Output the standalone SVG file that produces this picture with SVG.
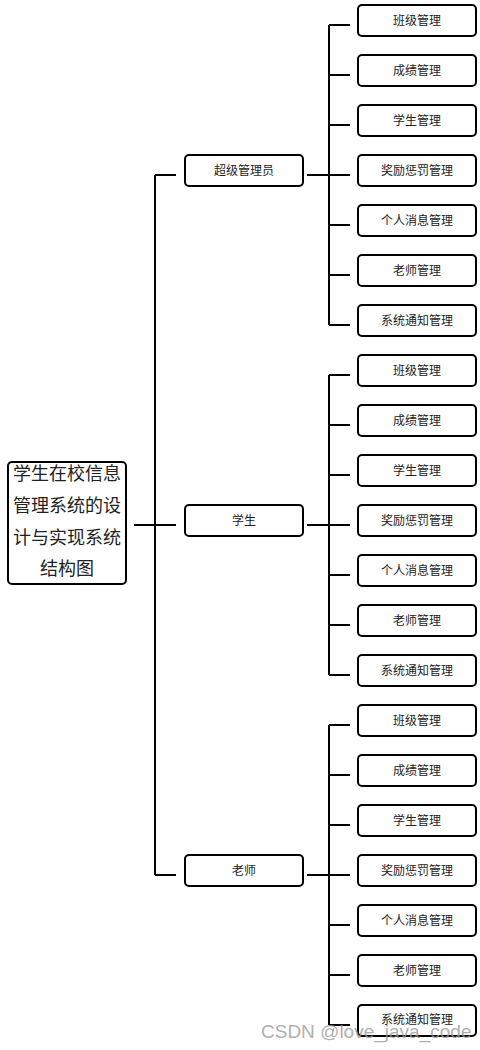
<svg xmlns="http://www.w3.org/2000/svg" width="480" height="1050" viewBox="0 0 480 1050">
<style>
.box{fill:#fff;stroke:#000;stroke-width:2}
.ln{stroke:#000;stroke-width:2;fill:none}
.t{font-family:"Noto Sans CJK SC","Liberation Sans",sans-serif;font-size:12px;fill:#222;text-anchor:middle;dominant-baseline:central}
.rt{font-family:"Noto Sans CJK SC","Liberation Sans",sans-serif;font-size:18px;fill:#222;text-anchor:middle}
.wm{font-family:"Liberation Sans",Arial,sans-serif;font-size:19px;fill:#999;fill-opacity:0.8}
</style>
<rect width="480" height="1050" fill="#fff"/>
<g id="connectors">
<path class="ln" d="M134 525H176M155 175V875M155 175H176M155 875H176"/>
<path class="ln" d="M307 175H329M329 25V325M329 25H350M329 75H350M329 125H350M329 175H350M329 225H350M329 275H350M329 325H350"/>
<path class="ln" d="M307 525H329M329 375V675M329 375H350M329 425H350M329 475H350M329 525H350M329 575H350M329 625H350M329 675H350"/>
<path class="ln" d="M307 875H329M329 725V1025M329 725H350M329 775H350M329 825H350M329 875H350M329 925H350M329 975H350M329 1025H350"/>
</g>
<g id="root">
<rect class="box" x="8" y="462" width="118" height="122" rx="4"/>
<text class="rt" x="67" y="480">学生在校信息</text>
<text class="rt" x="67" y="512">管理系统的设</text>
<text class="rt" x="67" y="544">计与实现系统</text>
<text class="rt" x="67" y="575">结构图</text>
</g>
<g id="n_admin"><rect class="box" x="185" y="155" width="118" height="31" rx="4"/><text class="t" x="244" y="169.5">超级管理员</text></g>
<g id="n_student"><rect class="box" x="185" y="505" width="118" height="31" rx="4"/><text class="t" x="244" y="519.5">学生</text></g>
<g id="n_teacher"><rect class="box" x="185" y="855" width="118" height="31" rx="4"/><text class="t" x="244" y="869.5">老师</text></g>
<g id="a1"><rect class="box" x="358" y="5" width="118" height="31" rx="4"/><text class="t" x="417" y="19.5">班级管理</text></g>
<g id="a2"><rect class="box" x="358" y="55" width="118" height="31" rx="4"/><text class="t" x="417" y="69.5">成绩管理</text></g>
<g id="a3"><rect class="box" x="358" y="105" width="118" height="31" rx="4"/><text class="t" x="417" y="119.5">学生管理</text></g>
<g id="a4"><rect class="box" x="358" y="155" width="118" height="31" rx="4"/><text class="t" x="417" y="169.5">奖励惩罚管理</text></g>
<g id="a5"><rect class="box" x="358" y="205" width="118" height="31" rx="4"/><text class="t" x="417" y="219.5">个人消息管理</text></g>
<g id="a6"><rect class="box" x="358" y="255" width="118" height="31" rx="4"/><text class="t" x="417" y="269.5">老师管理</text></g>
<g id="a7"><rect class="box" x="358" y="305" width="118" height="31" rx="4"/><text class="t" x="417" y="319.5">系统通知管理</text></g>
<g id="s1"><rect class="box" x="358" y="355" width="118" height="31" rx="4"/><text class="t" x="417" y="369.5">班级管理</text></g>
<g id="s2"><rect class="box" x="358" y="405" width="118" height="31" rx="4"/><text class="t" x="417" y="419.5">成绩管理</text></g>
<g id="s3"><rect class="box" x="358" y="455" width="118" height="31" rx="4"/><text class="t" x="417" y="469.5">学生管理</text></g>
<g id="s4"><rect class="box" x="358" y="505" width="118" height="31" rx="4"/><text class="t" x="417" y="519.5">奖励惩罚管理</text></g>
<g id="s5"><rect class="box" x="358" y="555" width="118" height="31" rx="4"/><text class="t" x="417" y="569.5">个人消息管理</text></g>
<g id="s6"><rect class="box" x="358" y="605" width="118" height="31" rx="4"/><text class="t" x="417" y="619.5">老师管理</text></g>
<g id="s7"><rect class="box" x="358" y="655" width="118" height="31" rx="4"/><text class="t" x="417" y="669.5">系统通知管理</text></g>
<g id="t1"><rect class="box" x="358" y="705" width="118" height="31" rx="4"/><text class="t" x="417" y="719.5">班级管理</text></g>
<g id="t2"><rect class="box" x="358" y="755" width="118" height="31" rx="4"/><text class="t" x="417" y="769.5">成绩管理</text></g>
<g id="t3"><rect class="box" x="358" y="805" width="118" height="31" rx="4"/><text class="t" x="417" y="819.5">学生管理</text></g>
<g id="t4"><rect class="box" x="358" y="855" width="118" height="31" rx="4"/><text class="t" x="417" y="869.5">奖励惩罚管理</text></g>
<g id="t5"><rect class="box" x="358" y="905" width="118" height="31" rx="4"/><text class="t" x="417" y="919.5">个人消息管理</text></g>
<g id="t6"><rect class="box" x="358" y="955" width="118" height="31" rx="4"/><text class="t" x="417" y="969.5">老师管理</text></g>
<g id="t7"><rect class="box" x="358" y="1005" width="118" height="31" rx="4"/><text class="t" x="417" y="1018.5">系统通知管理</text></g>
<text class="wm" x="261" y="1038">CSDN @love_java_code</text>
</svg>
